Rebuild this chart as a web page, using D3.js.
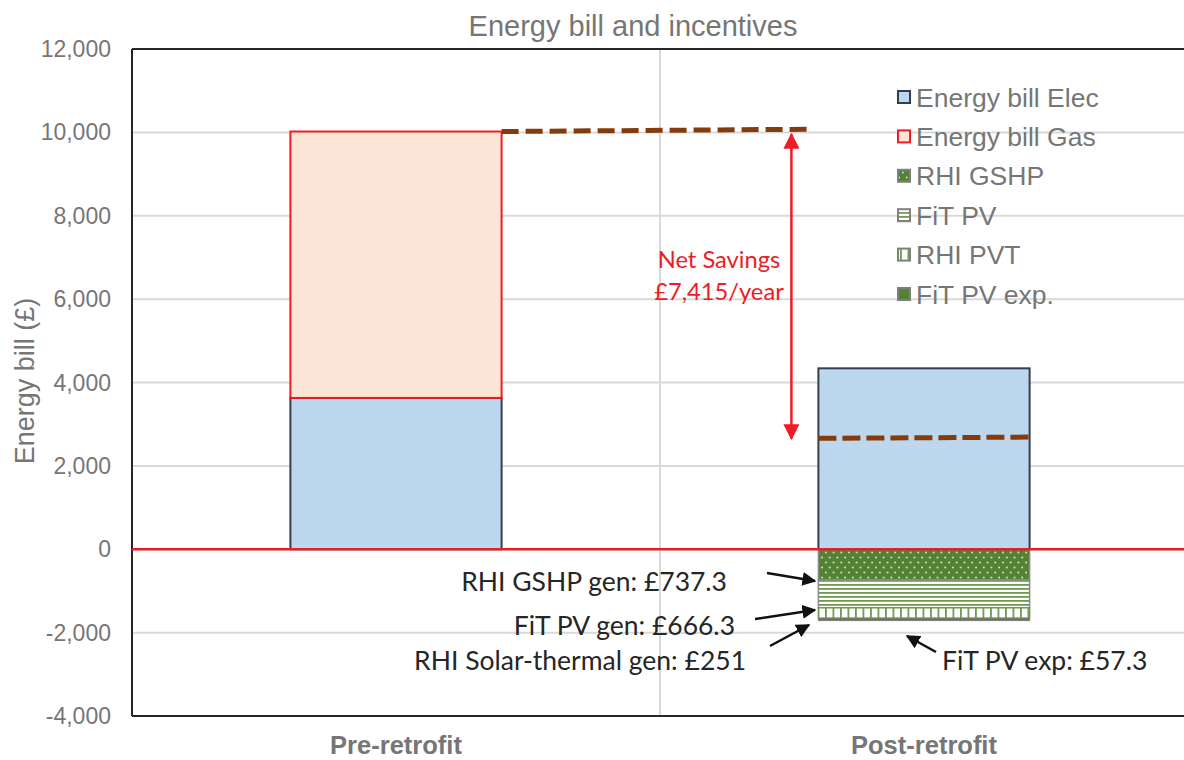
<!DOCTYPE html>
<html lang="en">
<head>
<meta charset="utf-8">
<title>Energy bill and incentives</title>
<script src="https://cdn.jsdelivr.net/npm/d3@7"></script>
<style>
  body { margin: 0; background: #fff; }
  svg text { font-family: "Liberation Sans", Arial, sans-serif; }
  svg text.note { font-family: Lato, "Open Sans", sans-serif; }
</style>
</head>
<body>
<script>
// data
var categories = ["Pre-retrofit", "Post-retrofit"];
var elecBill   = [3630, 4340];
var gasBill    = [6390, 0];
var rhiGshp    = [0, -737.3];
var fitPv      = [0, -666.3];
var rhiPvt     = [0, -251];
var fitPvExp   = [0, -57.3];
var seriesNames = ["Energy bill Elec", "Energy bill Gas", "RHI GSHP", "FiT PV", "RHI PVT", "FiT PV exp."];
var yTicks = [-4000, -2000, 0, 2000, 4000, 6000, 8000, 10000, 12000];
var preTotalLine = [10020, 10075];   // dashed line, start/end values
var postNetLine  = [2660, 2690];
var netSavings = 7415;

var W = 1184, H = 760;
var svg = d3.select("body").append("svg").attr("width", W).attr("height", H);

var mLeft = 132, mTop = 49, mBottom = 716, mRight = 1188;

var fmt = d3.formatLocale({ decimal: ".", thousands: ",", grouping: [3], currency: ["£", ""], minus: "-" }).format(",");

var y = d3.scaleLinear().domain([-4000, 12000]).range([mBottom, mTop]);
var x = d3.scaleBand().domain(categories).range([mLeft, mRight]).padding(0);
var barW = x.bandwidth() * 0.4;
function barX(c) { return x(c) + (x.bandwidth() - barW) / 2; }

// patterns
var defs = svg.append("defs");
var pDots = defs.append("pattern").attr("id", "dots").attr("patternUnits", "userSpaceOnUse")
  .attr("width", 7.7).attr("height", 10);
pDots.append("rect").attr("width", 7.7).attr("height", 10).attr("fill", "#548235");
pDots.append("circle").attr("cx", 2).attr("cy", 2.5).attr("r", 0.9).attr("fill", "#e4ecdc");
pDots.append("circle").attr("cx", 5.85).attr("cy", 7.5).attr("r", 0.9).attr("fill", "#e4ecdc");

var pH = defs.append("pattern").attr("id", "hstripe").attr("patternUnits", "userSpaceOnUse")
  .attr("width", 8).attr("height", 4);
pH.append("rect").attr("width", 8).attr("height", 4).attr("fill", "#fff");
pH.append("rect").attr("width", 8).attr("height", 1.8).attr("fill", "#6f9a4f");

var pV = defs.append("pattern").attr("id", "vstripe").attr("patternUnits", "userSpaceOnUse")
  .attr("width", 7.5).attr("height", 8);
pV.append("rect").attr("width", 7.5).attr("height", 8).attr("fill", "#fff");
pV.append("rect").attr("width", 1.8).attr("height", 8).attr("fill", "#6f9a4f");

// arrow markers
function marker(id, color, size) {
  defs.append("marker").attr("id", id).attr("viewBox", "0 0 10 10")
    .attr("refX", 9).attr("refY", 5).attr("markerWidth", size).attr("markerHeight", size)
    .attr("markerUnits", "userSpaceOnUse").attr("orient", "auto-start-reverse")
    .append("path").attr("d", "M0,0 L10,5 L0,10 z").attr("fill", color);
}
marker("blk", "#111", 14);
marker("red", "#ee1c25", 16);

// gridlines
svg.append("g").selectAll("line").data(yTicks).enter().append("line")
  .attr("x1", mLeft).attr("x2", W).attr("y1", function(d){ return y(d); }).attr("y2", function(d){ return y(d); })
  .attr("stroke", "#d9d9d9").attr("stroke-width", 2);
svg.append("line").attr("x1", x(categories[1])).attr("x2", x(categories[1]))
  .attr("y1", mTop).attr("y2", mBottom).attr("stroke", "#d9d9d9").attr("stroke-width", 2);

// plot border
svg.append("line").attr("x1", mLeft).attr("x2", W).attr("y1", mTop).attr("y2", mTop).attr("stroke", "#262626").attr("stroke-width", 2);
svg.append("line").attr("x1", mLeft).attr("x2", W).attr("y1", mBottom).attr("y2", mBottom).attr("stroke", "#262626").attr("stroke-width", 2);
svg.append("line").attr("x1", mLeft).attr("x2", mLeft).attr("y1", mTop).attr("y2", mBottom).attr("stroke", "#262626").attr("stroke-width", 2);

// stacked segments
var styles = [
  { fill: "#bdd7ee", stroke: "#333f50", sw: 2 },
  { fill: "#fbe5d6", stroke: "#ee1c25", sw: 2 },
  { fill: "url(#dots)", stroke: "#8c8c8c", sw: 1.5 },
  { fill: "url(#hstripe)", stroke: "#8c8c8c", sw: 1.5 },
  { fill: "url(#vstripe)", stroke: "#6f9a4f", sw: 1.5 },
  { fill: "#548235", stroke: "#7f7f7f", sw: 1 }
];
var seriesVals = [elecBill, gasBill, rhiGshp, fitPv, rhiPvt, fitPvExp];
var segs = [];
categories.forEach(function(c, i) {
  var pos = 0, neg = 0;
  seriesVals.forEach(function(s, k) {
    var v = s[i];
    if (v === 0) return;
    var y0, y1;
    if (v > 0) { y0 = pos; y1 = pos + v; pos = y1; } else { y0 = neg; y1 = neg + v; neg = y1; }
    segs.push({ c: c, k: k, y0: y0, y1: y1 });
  });
});
svg.append("g").selectAll("rect").data(segs).enter().append("rect")
  .attr("x", function(d){ return barX(d.c); })
  .attr("width", barW)
  .attr("y", function(d){ return y(Math.max(d.y0, d.y1)); })
  .attr("height", function(d){ return Math.abs(y(d.y0) - y(d.y1)); })
  .attr("fill", function(d){ return styles[d.k].fill; })
  .attr("stroke", function(d){ return styles[d.k].stroke; })
  .attr("stroke-width", function(d){ return styles[d.k].sw; });

// zero line
svg.append("line").attr("x1", mLeft).attr("x2", W).attr("y1", y(0)).attr("y2", y(0))
  .attr("stroke", "#e41f26").attr("stroke-width", 2.5);

// dashed lines
var preRight = barX(categories[0]) + barW, postLeft = barX(categories[1]);
svg.append("line").attr("x1", preRight).attr("x2", postLeft - 11)
  .attr("y1", y(preTotalLine[0])).attr("y2", y(preTotalLine[1]))
  .attr("stroke", "#843c0c").attr("stroke-width", 5).attr("stroke-dasharray", "17,7");
svg.append("line").attr("x1", postLeft).attr("x2", postLeft + barW)
  .attr("y1", y(postNetLine[0])).attr("y2", y(postNetLine[1]))
  .attr("stroke", "#843c0c").attr("stroke-width", 5).attr("stroke-dasharray", "18,6");

// net savings arrow
var ax = postLeft - 27;
svg.append("line").attr("x1", ax).attr("x2", ax)
  .attr("y1", y(preTotalLine[1]) + 5).attr("y2", y(postNetLine[0] - 5))
  .attr("stroke", "#ee1c25").attr("stroke-width", 2.5)
  .attr("marker-start", "url(#red)").attr("marker-end", "url(#red)");
svg.append("text").attr("class", "note").attr("x", 719).attr("y", 268).attr("text-anchor", "middle")
  .attr("fill", "#ee1c25").attr("font-size", 23.7).text("Net Savings");
svg.append("text").attr("class", "note").attr("x", 719).attr("y", 300).attr("text-anchor", "middle")
  .attr("fill", "#ee1c25").attr("font-size", 23.7).text("£" + fmt(netSavings) + "/year");

// incentive annotations
var notes = [
  { t: "RHI GSHP gen: £" + (-rhiGshp[1]), x: 727, y: 591, a: [767, 573, 815, 581] },
  { t: "FiT PV gen: £" + (-fitPv[1]), x: 735, y: 635, a: [755, 619, 815, 610] },
  { t: "RHI Solar-thermal gen: £" + (-rhiPvt[1]), x: 746, y: 670, a: [770, 646, 809, 625] }
];
notes.forEach(function(n) {
  svg.append("text").attr("class", "note").attr("x", n.x).attr("y", n.y).attr("text-anchor", "end")
    .attr("fill", "#262626").attr("font-size", 26.5).text(n.t);
  svg.append("line").attr("x1", n.a[0]).attr("y1", n.a[1]).attr("x2", n.a[2]).attr("y2", n.a[3])
    .attr("stroke", "#111").attr("stroke-width", 2.5).attr("marker-end", "url(#blk)");
});
svg.append("text").attr("class", "note").attr("x", 942).attr("y", 670)
  .attr("fill", "#262626").attr("font-size", 26.5).text("FiT PV exp: £" + (-fitPvExp[1]));
svg.append("line").attr("x1", 936).attr("y1", 652).attr("x2", 907).attr("y2", 636)
  .attr("stroke", "#111").attr("stroke-width", 2.5).attr("marker-end", "url(#blk)");

// y axis labels
svg.append("g").selectAll("text").data(yTicks).enter().append("text")
  .attr("x", 111).attr("y", function(d){ return y(d); }).attr("dy", "0.35em")
  .attr("text-anchor", "end").attr("fill", "#767676").attr("font-size", 23)
  .text(function(d){ return fmt(d); });

// x labels
svg.append("g").selectAll("text").data(categories).enter().append("text")
  .attr("x", function(d){ return x(d) + x.bandwidth() / 2; }).attr("y", 754)
  .attr("text-anchor", "middle").attr("fill", "#767676").attr("font-size", 25.5).attr("font-weight", "bold")
  .text(function(d){ return d; });

// title, axis title
svg.append("text").attr("x", 633).attr("y", 36).attr("text-anchor", "middle")
  .attr("fill", "#767676").attr("font-size", 29).text("Energy bill and incentives");
svg.append("text").attr("transform", "translate(34,381) rotate(-90)").attr("text-anchor", "middle")
  .attr("fill", "#767676").attr("font-size", 27).text("Energy bill (£)");

// legend
var leg = svg.append("g");
seriesNames.forEach(function(name, k) {
  var cy = 97 + k * 39.4;
  leg.append("rect").attr("x", 898).attr("y", cy - 6).attr("width", 12).attr("height", 12)
    .attr("fill", styles[k].fill).attr("stroke", k < 2 ? styles[k].stroke : "#7f7f7f").attr("stroke-width", 2);
  leg.append("text").attr("x", 916).attr("y", cy).attr("dy", "0.36em")
    .attr("fill", "#767676").attr("font-size", 26.5).text(name);
});
</script>
</body>
</html>
